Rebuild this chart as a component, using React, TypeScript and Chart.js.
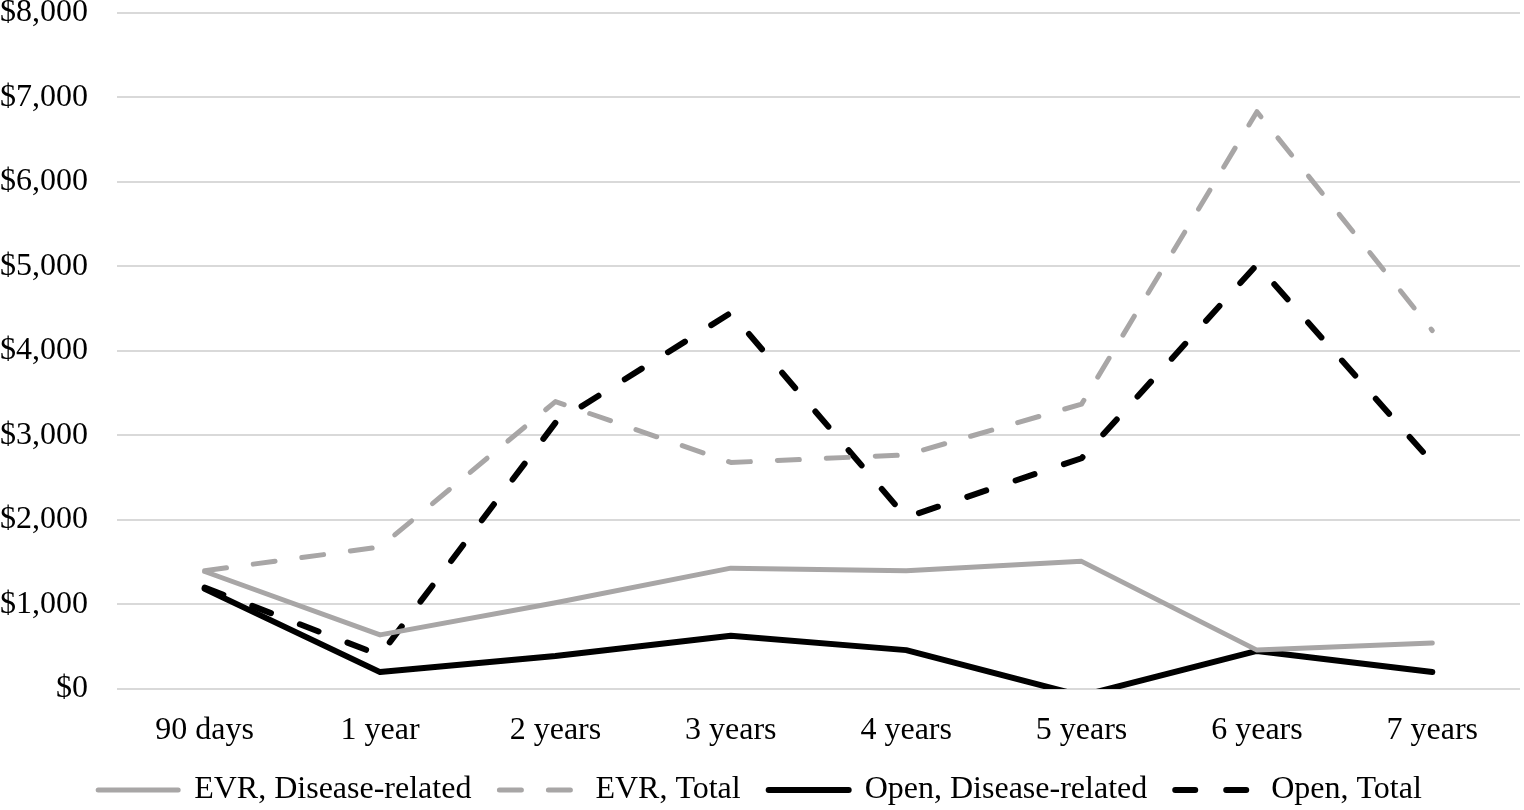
import React, { useEffect, useRef } from "react";
import { Chart, registerables } from "chart.js";

Chart.register(...registerables);

const categories = ["90 days", "1 year", "2 years", "3 years", "4 years", "5 years", "6 years", "7 years"];
const evrDisease = [1390, 640, 1020, 1430, 1400, 1510, 460, 545];
const evrTotal = [1400, 1680, 3400, 2680, 2770, 3370, 6830, 4240];
const openDisease = [1185, 200, 390, 630, 460, -80, 450, 200];
const openTotal = [1200, 400, 3150, 4450, 2030, 2730, 5020, 2680];
const yTicks = [0, 1000, 2000, 3000, 4000, 5000, 6000, 7000, 8000];

const GRAY = "#a8a6a6";
const BLACK = "#000000";
const FONT = "'Liberation Serif', 'Times New Roman', serif";

export default function App() {
  const ref = useRef<HTMLCanvasElement>(null);
  useEffect(() => {
    if (!ref.current) return;
    const mk = (label: string, data: number[], color: string, dash: number[], width: number) => ({
      label,
      data,
      borderColor: color,
      backgroundColor: color,
      borderWidth: width,
      borderDash: dash,
      borderCapStyle: "round" as const,
      borderJoinStyle: "round" as const,
      pointRadius: 0,
      pointStyle: "line" as const,
      tension: 0,
      fill: false,
    });
    const chart = new Chart(ref.current, {
      type: "line",
      data: {
        labels: categories,
        datasets: [
          mk("EVR, Disease-related", evrDisease, GRAY, [], 5),
          mk("EVR, Total", evrTotal, GRAY, [22, 27], 5),
          mk("Open, Disease-related", openDisease, BLACK, [], 6),
          mk("Open, Total", openTotal, BLACK, [20, 31], 6),
        ],
      },
      options: {
        responsive: false,
        animation: false,
        layout: { padding: { top: 0, right: 4, left: 0, bottom: -6 } },
        plugins: {
          tooltip: { enabled: false },
          legend: {
            position: "bottom",
            labels: {
              usePointStyle: true,
              pointStyle: "line",
              pointStyleWidth: 80,
              padding: 28,
              color: "#000",
              font: { family: FONT, size: 32 },
              generateLabels: (c: any) => {
                const items = Chart.defaults.plugins.legend.labels.generateLabels(c);
                return items.map((it: any) => {
                  const ds: any = c.data.datasets[it.datasetIndex];
                  return {
                    ...it,
                    lineDash: ds.borderDash,
                    lineCap: "round",
                    lineWidth: ds.borderWidth,
                    strokeStyle: ds.borderColor,
                    fillStyle: ds.borderColor,
                    pointStyle: "line",
                  };
                });
              },
            },
          },
        },
        scales: {
          x: {
            offset: true,
            grid: { display: false },
            border: { display: false },
            ticks: {
              color: "#000",
              padding: 14,
              maxRotation: 0,
              autoSkip: false,
              font: { family: FONT, size: 32 },
            },
            afterFit: (s: any) => {
              s.height = 57;
            },
          },
          y: {
            min: 0,
            max: 8000,
            afterBuildTicks: (s: any) => {
              s.ticks = yTicks.map((v) => ({ value: v }));
            },
            grid: {
              color: "#d9d9d9",
              lineWidth: 2,
              drawTicks: true,
              tickLength: 29,
              tickColor: "rgba(0,0,0,0)",
            },
            border: { display: false },
            ticks: {
              color: "#000",
              padding: 0,
              font: { family: FONT, size: 32, lineHeight: 0.8 },
              callback: (v: any) => "$" + Number(v).toLocaleString("en-US"),
            },
            afterFit: (s: any) => {
              s.width = 117;
            },
          },
        },
      },
    });
    return () => chart.destroy();
  }, []);
  return (
    <div style={{ position: "absolute", left: 0, top: 0, width: 1524, height: 810, background: "#fff" }}>
      <canvas ref={ref} width={1524} height={810} style={{ display: "block" }} />
    </div>
  );
}
